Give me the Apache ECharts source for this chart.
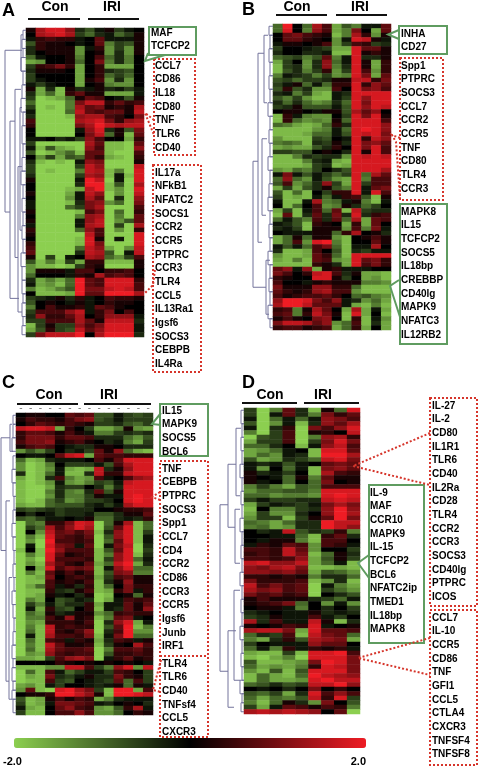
<!DOCTYPE html>
<html>
<head>
<meta charset="utf-8">
<title>Heatmaps</title>
<script src="https://cdn.jsdelivr.net/npm/echarts@6/dist/echarts.min.js"></script>
<style>
html, body { margin: 0; padding: 0; background: #fff; }
#chart { width: 480px; height: 769px; }
</style>
</head>
<body>
<div id="chart"></div>
<script>
// heat values are in steps of 0.2, so -10 is -2.0 and 10 is 2.0
const panelA = [
  [1,7,9,9,6,-2,-4,-1,1,-3,-1,0],
  [0,7,8,9,7,-3,-5,-2,-1,-5,-3,1],
  [-1,2,3,2,2,-1,0,4,-1,-1,-1,1],
  [-4,2,1,1,0,-1,0,4,-6,-3,-4,1],
  [-2,2,1,1,1,-7,-1,2,-7,-3,-7,1],
  [-2,0,1,1,1,-7,0,1,-7,-2,-7,1],
  [-5,-1,0,0,1,-6,0,3,-5,-2,-6,0],
  [-8,-7,0,0,1,-5,0,5,-6,-2,-6,0],
  [-3,2,3,5,2,-8,0,2,-8,-8,-8,0],
  [-2,1,1,1,0,-8,0,2,-2,-3,-4,0],
  [-3,0,0,0,0,-8,0,2,-5,-3,-5,0],
  [-3,-1,0,0,0,-8,1,3,-7,-2,-7,0],
  [-1,-3,-1,0,0,-8,0,1,-6,-7,-7,0],
  [1,-8,-2,-9,1,-2,-1,1,-2,-1,-3,-1],
  [-2,-8,-5,-9,2,4,1,1,-8,-8,-8,-1],
  [-3,-10,-9,-8,-5,1,4,3,0,-1,-4,1],
  [-5,-10,-10,-10,-6,5,8,8,2,4,2,3],
  [-3,-10,-9,-10,-6,7,4,5,1,2,1,7],
  [-1,-10,-10,-10,-5,8,4,3,4,4,1,8],
  [-2,-10,-10,-10,-9,6,7,7,3,2,0,5],
  [3,-10,-10,-10,-10,7,8,9,5,2,6,7],
  [2,-10,-10,-10,-10,5,7,10,8,7,8,8],
  [0,-10,-10,-10,-10,-1,6,9,-2,1,-4,5],
  [0,-10,-10,-10,-10,0,5,8,-5,1,-9,4],
  [-1,-1,0,-2,-1,-3,6,3,0,0,-8,2],
  [-3,-10,-10,-10,-10,-10,7,4,-9,-9,-10,4],
  [-1,-9,-4,-8,-9,-10,6,3,-9,-9,-10,6],
  [-4,-10,-9,-7,-5,-9,4,4,-9,-10,-10,3],
  [0,-7,-3,-8,-4,-5,4,2,-8,-9,-10,2],
  [-2,-9,-10,-9,-10,-1,6,5,-10,-10,-10,1],
  [-3,-10,-10,-10,-10,-3,8,6,-10,-10,-10,8],
  [-3,-10,-9,-10,-10,-6,8,7,-9,-6,-10,9],
  [-2,-10,-10,-10,-10,-3,7,6,-9,-1,-9,9],
  [1,-10,-10,-10,-10,-1,10,8,-10,-1,-10,9],
  [0,-10,-10,-10,-10,-2,10,10,-9,-4,-10,7],
  [0,-10,-10,-10,-9,-8,8,10,-9,-7,-10,9],
  [1,-10,-10,-10,-8,-1,8,6,-10,-7,-10,8],
  [0,-10,-10,-10,-7,-1,7,4,-10,-2,-10,6],
  [-1,-10,-10,-10,-9,-2,5,6,-7,-5,-10,5],
  [-1,-10,-10,-10,-5,-3,5,7,-10,-10,-10,3],
  [1,-10,-10,-10,-10,-9,3,5,-10,-5,-10,2],
  [0,-10,-10,-10,-10,-6,6,7,-10,-6,-10,4],
  [1,-10,-10,-10,-10,-1,6,8,-10,-7,-4,4],
  [-1,-10,-10,-10,-10,-1,7,8,-10,-3,-10,7],
  [2,-10,-10,-10,-10,-5,6,3,-10,-7,-10,2],
  [1,-10,-10,-10,-10,-10,8,3,-10,-10,-10,9],
  [0,-10,-10,-10,-10,-9,9,1,-10,-1,-10,9],
  [2,-10,-10,-10,-10,-9,9,5,-10,-10,-10,9],
  [3,-10,-10,-10,-10,-5,8,6,-8,-10,-7,8],
  [4,-10,-10,-10,-10,-2,8,7,-4,-10,-1,8],
  [1,-10,-3,-10,-1,0,7,6,-5,-7,-3,3],
  [-4,-9,-6,-9,-3,-8,2,2,-9,-9,-9,1],
  [-7,-9,-9,-10,-9,-3,2,1,-10,-10,-10,1],
  [-7,1,1,1,-1,3,3,0,2,2,3,0],
  [-5,0,0,0,-1,2,1,7,3,4,3,0],
  [-2,-8,-6,-8,-5,10,4,3,9,9,9,2],
  [-1,-8,-7,-9,-5,10,4,3,9,9,9,3],
  [-6,-9,-8,-6,-4,10,5,5,8,9,8,3],
  [0,-9,-9,-9,-8,10,4,4,10,10,10,7],
  [-3,-2,-1,1,-2,2,-1,0,3,2,2,1],
  [-4,0,1,0,-1,1,-1,0,2,1,1,0],
  [-6,0,3,1,1,2,-1,4,3,1,0,0],
  [-3,3,3,3,6,8,-1,2,5,0,3,0],
  [-2,6,2,2,4,7,0,2,6,6,6,-1],
  [-3,-3,3,3,3,7,4,1,8,8,8,-2],
  [-9,-3,1,-3,-3,6,3,5,9,9,9,-1],
  [-8,-4,2,-3,-4,8,4,6,9,9,9,-1],
  [-3,5,8,8,8,10,0,7,10,10,10,-2]
]
const panelB = [
  [-5,10,0,-5,7,3,-8,-4,-6,-1,-1,4],
  [-5,9,0,-6,6,3,-8,-6,5,0,-8,4],
  [0,4,5,3,2,1,-9,-6,7,2,-7,1],
  [0,4,4,2,1,0,-7,-1,9,8,1,-1],
  [-1,1,1,0,1,3,-7,-3,3,2,-3,-2],
  [-3,0,0,-1,-2,-3,-8,-8,9,4,4,1],
  [-2,0,0,-2,-2,-1,-9,-9,9,1,2,1],
  [-5,-4,-3,-6,-4,4,-6,-1,9,-2,-2,1],
  [-8,-3,0,-7,-2,6,-5,-1,9,1,-8,2],
  [-9,-3,-2,-7,-2,6,-6,-2,9,1,-8,2],
  [-9,-4,-2,-6,-3,2,-7,-3,9,3,-7,2],
  [-6,-1,-2,-3,-6,-3,-7,-6,9,5,-8,4],
  [-4,-3,-5,-3,-3,-2,1,1,8,8,2,5],
  [-3,-1,1,-5,-1,-5,2,2,9,2,6,4],
  [-4,2,-4,-2,-7,-7,3,0,9,5,6,3],
  [-2,-1,-6,-3,-8,-9,-1,-2,9,9,9,9],
  [-4,-6,-3,-7,-9,-9,-1,-3,9,6,9,9],
  [-2,-5,-2,-5,-7,-6,-2,-5,9,5,9,9],
  [-3,-2,1,-4,-4,-4,-1,-4,9,6,9,8],
  [0,1,1,0,-1,1,1,-4,7,4,6,0],
  [-9,2,-1,-6,-7,-7,0,-3,9,5,9,1],
  [-9,2,-5,-7,-6,-7,1,-5,9,9,9,3],
  [-5,-6,-8,-9,-8,-5,2,-2,9,9,9,6],
  [-9,-9,-9,-9,-7,-6,-1,-5,9,10,9,6],
  [-9,-9,-9,-8,-5,-5,-1,-4,9,8,9,5],
  [-7,-9,-9,-9,-3,-4,0,-1,9,2,8,6],
  [-6,-5,-6,-9,-2,-3,1,-2,9,5,6,4],
  [-8,-7,-8,-8,-4,-2,2,0,9,5,9,3],
  [-3,-3,-4,-4,0,1,0,-2,9,1,9,3],
  [-9,-9,-6,-2,-3,-2,-2,-7,9,8,9,8],
  [-9,-9,-9,-6,-2,-1,-8,-9,9,9,9,9],
  [-9,-9,-9,-8,-3,-2,-9,-8,9,9,9,9],
  [-7,-8,-5,-6,-3,0,-2,-4,9,9,9,7],
  [-1,5,-1,-4,-1,-3,-5,-3,9,-5,7,4],
  [-5,6,-5,-7,-1,-4,-7,-8,9,-6,3,3],
  [-4,3,-7,-5,-2,6,-3,-8,9,-3,3,3],
  [-8,-3,-8,-4,-2,1,-4,-6,9,-1,4,5],
  [-4,-9,-5,-9,0,-3,2,2,9,-1,9,3],
  [-3,-9,-8,-9,-1,-5,-1,2,3,-4,-9,1],
  [-1,-9,-9,-1,7,-6,-5,-1,1,-6,-9,-1],
  [0,-9,-5,0,3,-7,-6,1,-2,-5,-3,0],
  [-8,-3,-9,-1,3,-5,4,-9,8,-3,-2,-2],
  [-9,4,-9,-2,4,-2,5,-2,9,-2,2,3],
  [-5,-1,-4,-6,3,-2,4,-5,7,-8,4,3],
  [-1,-2,-4,-9,2,1,0,-8,2,-8,4,0],
  [-2,-1,-3,-9,1,1,1,-7,3,-6,5,-1],
  [0,-1,-1,-1,1,1,-5,2,7,0,1,-2],
  [-8,-5,1,-5,1,1,-7,-9,0,1,3,1],
  [-8,-5,3,-7,9,10,-6,-9,0,0,4,1],
  [-1,-4,-1,-5,3,5,-5,-9,-1,-1,7,0],
  [-2,-9,-9,-8,3,0,-4,-9,-2,-3,-1,-1],
  [-7,-9,-9,-8,4,2,-5,-9,9,9,9,9],
  [-8,-9,-6,-9,4,3,-7,-8,9,4,5,2],
  [-9,-9,-9,-9,2,1,-2,-8,9,3,5,2],
  [4,6,-1,6,-8,1,2,-1,-1,-1,0,0],
  [5,3,0,2,8,9,3,-2,1,-8,-8,-9],
  [2,1,0,0,9,9,1,-3,0,-8,-7,-9],
  [3,0,0,-1,1,2,1,1,1,-6,-6,-7],
  [5,1,1,1,6,6,2,2,-5,-9,-9,-9],
  [4,2,1,2,6,7,3,3,-7,-9,-9,-9],
  [3,1,2,3,3,4,2,0,-5,-4,-6,-7],
  [6,10,10,9,5,3,6,-1,-2,-7,-5,-8],
  [7,10,10,8,4,4,4,-1,-8,-9,-6,-9],
  [2,3,-6,1,7,4,0,-8,7,-8,-1,-8],
  [3,4,-6,2,8,5,1,-9,9,-8,0,-9],
  [1,3,1,0,5,6,0,-9,2,-9,-1,-7],
  [5,8,8,7,4,6,-7,-5,3,-9,-2,-8],
  [2,3,3,1,2,3,-8,-5,2,-8,0,-8]
]
const panelC = [
  [0,1,1,0,0,4,3,4,-4,-4,-1,-3,-4,-3],
  [1,3,2,2,1,3,5,6,-4,-3,-1,-3,-3,-3],
  [0,2,4,3,2,3,2,1,-3,-3,-2,-4,-5,-3],
  [8,9,9,8,-8,2,0,-3,-8,-8,-6,1,-7,-8],
  [2,4,4,3,1,3,1,-1,-6,-6,-3,-2,-3,-2],
  [2,5,5,5,2,4,4,3,-2,-2,-2,-5,-7,-4],
  [3,5,5,6,1,2,3,1,0,-2,-1,-6,-8,-3],
  [1,3,4,3,0,-1,-2,-2,1,1,0,-2,-2,-2],
  [-7,-4,-6,-3,0,-2,-1,-3,4,1,6,-5,-8,-9],
  [0,-1,-1,0,4,8,9,-8,4,3,3,2,2,2],
  [-5,-9,-8,-2,-1,-1,-1,0,3,1,4,9,9,9],
  [-7,-10,-9,-6,0,-3,-3,-3,-1,-4,3,7,9,9],
  [-7,-10,-9,-7,-1,-8,-9,-8,8,-2,1,6,9,9],
  [-2,-10,-9,-5,-1,-9,-9,-2,8,2,2,8,9,9],
  [-8,-10,-9,-2,3,-6,-8,-7,3,-1,0,3,6,7],
  [-9,-10,-9,-7,-1,-7,-8,-6,-3,-4,-1,8,9,9],
  [-9,-10,-10,-8,-2,-3,-3,0,-2,-6,-2,9,9,9],
  [-9,-10,-10,-6,-2,-6,-7,-2,4,-4,1,9,9,9],
  [-9,-10,-10,-7,-2,-6,-6,-3,1,-1,-1,9,10,9],
  [-9,-10,-9,-5,-3,-7,-6,-3,-3,-2,0,9,10,9],
  [-8,-9,-9,-5,-4,-4,-4,-2,-1,-3,-1,7,9,9],
  [-3,-4,-3,-2,-3,-2,-2,-2,0,0,1,2,2,3],
  [0,-2,0,-1,-3,-2,-2,-1,-4,-4,-2,1,1,4],
  [-4,-5,-3,-1,-1,0,-1,1,-5,-5,-2,-1,-2,2],
  [-10,-5,-6,2,2,5,9,8,-10,-5,1,7,-9,-5],
  [-10,-3,-5,7,3,6,9,7,-10,-4,4,9,-9,-5],
  [-10,0,-7,8,4,5,3,5,-9,-2,6,9,-9,-3],
  [-10,-6,-9,9,4,3,2,4,-10,-4,6,9,-9,-1],
  [-10,-7,-10,10,3,3,2,3,-10,-5,4,9,-9,-1],
  [-10,-1,-10,9,5,4,-1,4,-10,-1,5,8,-10,-2],
  [-9,0,-9,10,6,3,3,3,-9,-4,4,9,-10,-3],
  [-10,-6,-9,9,4,1,2,3,-9,-6,6,9,-9,-2],
  [-10,-8,-10,9,3,3,3,2,-9,-3,6,9,-5,-1],
  [-10,-7,-9,7,4,2,1,4,-8,-5,8,10,-8,-2],
  [-10,0,-8,9,3,5,4,5,-9,-1,6,9,-5,-5],
  [-10,-6,-9,4,1,3,1,3,-9,-4,5,6,-6,-6],
  [-10,-9,-8,5,0,2,3,2,-8,-3,3,4,1,1],
  [-10,-9,-9,3,1,2,1,3,-9,-2,1,6,1,1],
  [-10,-8,-5,3,-1,1,-2,2,-9,-5,0,5,2,2],
  [-10,-9,-9,2,-2,-3,1,3,-9,-8,2,5,-1,2],
  [-10,-9,-8,1,-1,0,-2,1,-10,-9,0,1,-5,1],
  [-10,-6,-8,0,-4,-3,-1,-2,-10,-8,-1,3,2,3],
  [-10,-3,-6,-1,-4,-2,-2,2,-8,-1,-1,4,1,4],
  [-10,-1,-8,2,-3,-4,0,2,-9,-1,-2,4,1,6],
  [-10,-5,-7,1,-2,-1,1,1,-7,-5,2,3,2,2],
  [-10,-6,-6,3,1,6,1,2,-9,-6,4,5,-1,0],
  [-10,-7,-8,2,2,2,1,3,-10,-2,6,9,-8,-1],
  [-10,-6,-9,8,2,3,2,2,-10,-4,4,10,-9,-6],
  [-10,-5,-9,8,2,1,3,6,-10,-2,3,10,-7,-7],
  [-10,-1,-9,7,3,3,2,5,-9,-1,5,10,-5,-5],
  [-10,-5,-9,3,2,-1,2,1,-8,-2,3,2,-1,1],
  [-10,-6,-9,8,4,1,1,2,-9,-3,1,0,7,3],
  [-10,-5,-9,7,4,3,3,4,-10,-6,3,3,4,2],
  [-10,-7,-8,6,3,2,3,3,-10,-4,2,2,3,2],
  [-8,-8,-9,-3,3,6,7,5,-10,-1,2,4,1,2],
  [0,0,0,0,2,1,0,1,0,1,0,1,0,-1],
  [-9,-9,-9,-7,-7,8,8,3,-3,-6,6,9,-7,8],
  [-10,-5,-9,3,-1,-5,-3,-1,-1,-3,3,2,0,-3],
  [-10,-8,-9,5,-2,-3,-1,1,-2,-2,5,2,1,-3],
  [-10,-9,-9,3,-3,-4,0,-1,-2,-3,4,-5,3,-3],
  [-8,-7,-9,-1,-3,0,0,-1,-2,-1,1,-5,1,-1],
  [-7,4,-9,-10,9,10,7,5,-3,-9,10,10,-8,3],
  [0,1,1,2,10,10,8,6,1,-9,10,10,9,8],
  [-4,-9,-8,1,3,1,3,2,-8,-6,-2,-1,-1,-1],
  [-3,-9,-8,-1,5,5,4,3,-1,-2,0,1,0,-2],
  [-1,-8,-9,0,4,6,3,2,-7,-8,-4,2,7,-1],
  [-3,-9,-9,0,3,3,6,3,-7,-7,-5,0,2,1]
]
const panelD = [
  [-3,-10,-6,4,-2,-9,1,-5,9],
  [-3,-10,-1,4,-2,-6,5,2,4],
  [-1,-10,-5,-1,-5,-1,6,5,3],
  [-4,-10,-7,-1,-9,-2,6,4,7],
  [-1,-10,-2,2,-10,5,3,6,9],
  [-6,-10,-3,3,-10,1,2,0,8],
  [-10,-4,-3,3,-10,-6,6,7,2],
  [-8,-3,-3,3,-10,-3,5,9,5],
  [-5,-5,-2,0,-9,-1,6,8,3],
  [-8,-7,-5,-1,0,-9,9,9,4],
  [-8,-5,-7,-1,-2,-9,10,10,7],
  [-4,-8,-7,-2,-3,-5,8,9,5],
  [-1,-2,-1,-4,-1,0,4,5,4],
  [-1,-7,0,-5,-1,-9,5,6,4],
  [1,-2,-1,-3,0,-9,7,3,2],
  [1,0,-1,-5,1,-6,4,1,1],
  [1,-1,0,-5,0,-5,5,0,1],
  [-6,-3,-6,-8,-4,-5,3,3,3],
  [-7,-5,-5,-4,-4,-6,9,9,9],
  [-5,-5,-7,-6,-6,-7,9,10,9],
  [-3,-1,-3,-3,-2,-2,8,9,8],
  [-8,-3,-1,-2,-3,-1,5,7,5],
  [-9,0,-6,-6,-3,-2,6,10,6],
  [-8,-3,-7,-7,-2,0,6,10,7],
  [-7,-3,-3,-9,-3,1,4,10,5],
  [-5,-6,-8,-5,-2,-2,10,8,8],
  [-6,-5,-8,-7,-2,-2,10,8,6],
  [0,-2,-1,8,-4,-2,-3,2,-6],
  [0,0,-1,-1,-5,-9,2,4,-2],
  [0,-1,1,1,-6,-9,3,3,0],
  [-1,2,1,4,3,-7,3,2,-1],
  [3,3,2,8,4,-7,0,0,-3],
  [2,3,2,8,5,-9,-5,1,-2],
  [3,3,2,3,6,-8,-4,1,-3],
  [8,9,6,6,8,-8,-5,-1,-9],
  [6,5,7,8,5,-9,-9,-8,-9],
  [6,6,5,6,4,-8,-4,-5,-7],
  [2,2,1,2,1,-6,-2,-2,-5],
  [5,2,2,2,3,-9,-7,-2,-9],
  [8,3,5,3,4,-10,-1,-6,-8],
  [7,5,6,3,4,-10,-3,-5,-7],
  [5,3,4,2,3,-10,0,-2,-4],
  [1,3,1,1,1,-2,-3,-5,-1],
  [1,2,3,5,-5,0,-7,-1,-7],
  [0,1,1,-1,-6,0,-2,0,-3],
  [-2,-1,0,-1,-1,1,-2,-1,-2],
  [-3,-2,1,-1,-1,3,-1,-3,0],
  [7,-2,3,-1,-1,8,1,-9,-2],
  [1,0,1,3,2,9,-1,0,1],
  [7,8,8,5,-8,9,4,4,3],
  [-5,-2,-3,3,-9,8,5,4,-5],
  [-6,-8,-2,2,-4,7,6,5,-8],
  [-3,0,-1,-1,-1,6,4,4,0],
  [-5,-1,-6,2,-1,2,1,2,-1],
  [-8,-9,-9,-3,-9,9,9,10,3],
  [-9,-10,-8,-6,-10,9,9,9,5],
  [-4,-9,-9,-8,-7,5,10,9,5],
  [-5,-8,-7,-8,-6,2,9,8,5],
  [-7,-9,-4,-9,-4,9,9,9,5],
  [-9,-5,-8,-9,-5,10,8,7,6],
  [-9,-5,-8,-8,-7,9,10,8,8],
  [-5,-4,-2,-4,-3,8,8,10,6],
  [0,-1,0,-2,0,5,0,2,0],
  [-4,-5,-3,-8,-2,9,3,6,3],
  [-5,-8,-5,-6,-4,8,2,9,-3],
  [-6,-9,-5,1,-2,-7,5,0,-4],
  [-3,-8,-1,4,3,1,3,2,-6],
  [7,8,7,8,7,6,0,4,-10]
]

// dendrogram brackets: [x of the spine, top row, bottom row, x end of top arm, x end of bottom arm]
const treeA = [
  [5,4.4,40,22,10],[10,20,59,15,19],[15,13,50,21,18],[18,30,62,22,22],[20,17,44,22,22],
  [21,1,9,23,23],[23,0,2,26,26],[22,2,4,26,26],[23,4,6,26,26],[21,6,9,26,26],[23,9,12,26,26],[22,12,15,26,26],
  [21,15,18,26,26],[23,18,21,26,26],[22,21,25,26,26],[23,25,28,26,26],[22,28,31,26,26],[21,31,34,26,26],
  [23,34,37,26,26],[22,37,40,26,26],[23,40,43,26,26],[22,43,46,26,26],[23,46,49,26,26],[21,49,52,26,26],
  [22,52,55,26,26],[22,55,58,26,26],[23,58,60,26,26],[22,60,63,26,26],[23,63,65,26,26],[22,65,67,26,26]
]
const treeB = [
  [13,30,58,18,26],[18,6,48,24,22],[24,2,17,28,27],[22,25,42,27,26],[26,52,64,30,29],
  [29,0,2,33,33],[30,2,5,33,33],[29,5,8,33,33],[30,8,11,33,33],[29,11,14,33,33],[30,14,17,33,33],
  [28,17,20,33,33],[30,20,23,33,33],[29,23,26,33,33],[30,26,29,33,33],[28,29,32,33,33],[30,32,35,33,33],
  [29,35,38,33,33],[28,38,41,33,33],[30,41,44,33,33],[29,44,47,33,33],[30,47,50,33,33],[28,50,53,33,33],
  [30,53,56,33,33],[29,56,59,33,33],[30,59,62,33,33],[28,62,65,33,33],[30,65,67,33,33]
]
const treeC = [
  [1,5,30,10,6],[6,19,59,10,9],[10,2,8,12,13],[9,36,63,12,12],
  [13,0,2,16,16],[13,2,5,16,16],[12,5,8,16,16],[13,9,12,16,16],[12,12,15,16,16],[13,15,18,16,16],
  [14,18,21,16,16],[13,21,24,16,16],[12,24,27,16,16],[13,27,30,16,16],[14,30,33,16,16],[13,33,36,16,16],
  [14,36,39,16,16],[12,39,42,16,16],[13,42,45,16,16],[14,45,48,16,16],[13,48,51,16,16],[12,51,54,16,16],
  [13,54,56,16,16],[12,56,59,16,16],[13,59,61,16,16],[12,61,63,16,16],[13,63,66,16,16]
]
const treeD = [
  [0,21,58,8,8],[8,12,26,16,15],[8,49,66,16,14],[16,4,19,21,20],[15,22,34,20,20],[14,40,60,20,20],
  [21,0,3,24,24],[22,3,6,24,24],[21,6,9,24,24],[22,9,12,24,24],[20,12,15,24,24],[22,15,18,24,24],
  [21,18,21,24,24],[22,21,24,24,24],[20,24,27,24,24],[22,27,30,24,24],[21,30,33,24,24],[22,33,36,24,24],
  [20,36,39,24,24],[22,39,42,24,24],[21,42,45,24,24],[22,45,48,24,24],[20,48,51,24,24],[22,51,54,24,24],
  [21,54,57,24,24],[22,57,60,24,24],[20,60,63,24,24],[22,63,65,24,24],[21,65,67,24,24]
]

// gene lists next to the heatmaps
const genesA1 = ['MAF', 'TCFCP2']
const genesA2 = ['CCL7', 'CD86', 'IL18', 'CD80', 'TNF', 'TLR6', 'CD40']
const genesA3 = ['IL17a', 'NFkB1', 'NFATC2', 'SOCS1', 'CCR2', 'CCR5', 'PTPRC', 'CCR3', 'TLR4', 'CCL5', 'IL13Ra1', 'Igsf6', 'SOCS3', 'CEBPB', 'IL4Ra']
const genesB1 = ['INHA', 'CD27']
const genesB2 = ['Spp1', 'PTPRC', 'SOCS3', 'CCL7', 'CCR2', 'CCR5', 'TNF', 'CD80', 'TLR4', 'CCR3']
const genesB3 = ['MAPK8', 'IL15', 'TCFCP2', 'SOCS5', 'IL18bp', 'CREBBP', 'CD40lg', 'MAPK9', 'NFATC3', 'IL12RB2']
const genesC1 = ['IL15', 'MAPK9', 'SOCS5', 'BCL6']
const genesC2 = ['TNF', 'CEBPB', 'PTPRC', 'SOCS3', 'Spp1', 'CCL7', 'CD4', 'CCR2', 'CD86', 'CCR3', 'CCR5', 'Igsf6', 'Junb', 'IRF1']
const genesC3 = ['TLR4', 'TLR6', 'CD40', 'TNFsf4', 'CCL5', 'CXCR3']
const genesD1 = ['IL-27', 'IL-2', 'CD80', 'IL1R1', 'TLR6', 'CD40', 'IL2Ra', 'CD28', 'TLR4', 'CCR2', 'CCR3', 'SOCS3', 'CD40lg', 'PTPRC', 'ICOS']
const genesD2 = ['CCL7', 'IL-10', 'CCR5', 'CD86', 'TNF', 'GFI1', 'CCL5', 'CTLA4', 'CXCR3', 'TNFSF4', 'TNFSF8']
const genesD3 = ['IL-9', 'MAF', 'CCR10', 'MAPK9', 'IL-15', 'TCFCP2', 'BCL6', 'NFATC2ip', 'TMED1', 'IL18bp', 'MAPK8']

const heatColors = ['#8ccf50', '#000000', '#ee1c24']
const red = '#d6352b'
const green = '#5f9c60'
const font = '"Liberation Sans", Arial, sans-serif'

const panels = [
  { rows: panelA, tree: treeA, left: 26, top: 28, width: 118, height: 309, treeLeft: 0 },
  { rows: panelB, tree: treeB, left: 273, top: 24, width: 118, height: 306, treeLeft: 240 },
  { rows: panelC, tree: treeC, left: 16, top: 413, width: 137, height: 302, treeLeft: 0 },
  { rows: panelD, tree: treeD, left: 244, top: 408, width: 116, height: 306, treeLeft: 220 }
]

const grid = []
const xAxis = []
const yAxis = []
const series = []

panels.forEach(function (p, i) {
  const cols = p.rows[0].map(function () { return '-' })
  const cells = []
  p.rows.forEach(function (row, r) {
    row.forEach(function (v, c) { cells.push([c, r, v]) })
  })
  // heatmap grid
  grid.push({ left: p.left, top: p.top, width: p.width, height: p.height })
  xAxis.push({
    type: 'category', gridIndex: grid.length - 1, data: cols, position: 'top',
    axisLine: { show: false }, axisTick: { show: false }, splitLine: { show: false },
    // only panel C has the row of dashes over its columns
    axisLabel: { show: i === 2, interval: 0, color: '#777', fontSize: 10, margin: 0, fontFamily: font }
  })
  yAxis.push({
    type: 'category', gridIndex: grid.length - 1, inverse: true,
    data: p.rows.map(function (_, r) { return r }), show: false
  })
  series.push({
    type: 'heatmap', xAxisIndex: grid.length - 1, yAxisIndex: grid.length - 1,
    data: cells, silent: true, progressive: 0, itemStyle: { borderWidth: 0 }
  })
  // dendrogram grid, axis units are pixels across and rows down
  const treeWidth = p.left - p.treeLeft
  grid.push({ left: p.treeLeft, top: p.top, width: treeWidth, height: p.height })
  xAxis.push({ type: 'value', gridIndex: grid.length - 1, min: 0, max: treeWidth, show: false })
  yAxis.push({ type: 'value', gridIndex: grid.length - 1, min: 0, max: p.rows.length, inverse: true, show: false })
  series.push({
    type: 'custom', xAxisIndex: grid.length - 1, yAxisIndex: grid.length - 1, silent: true,
    data: p.tree,
    encode: { x: [0, 3, 4], y: [1, 2] },
    renderItem: function (params, api) {
      const a = api.coord([api.value(0), api.value(1) + 0.5])
      const b = api.coord([api.value(0), api.value(2) + 0.5])
      const ax = api.coord([api.value(3), api.value(1) + 0.5])
      const bx = api.coord([api.value(4), api.value(2) + 0.5])
      return {
        type: 'polyline',
        shape: { points: [ax, a, b, bx] },
        style: { stroke: '#74749c', fill: null, lineWidth: 1 }
      }
    }
  })
})

// texts, boxes and pointers
const graphics = []
function text(str, x, y, size, align) {
  graphics.push({
    type: 'text', x: x, y: y, z: 100,
    style: { text: str, fill: '#000', font: 'bold ' + size + 'px ' + font, textAlign: align || 'left', textVerticalAlign: 'middle' }
  })
}
function genes(list, x, y0) {
  list.forEach(function (g, i) { text(g, x, y0 + i * 13.67, 10) })
}
function box(x, y, w, h, color, dotted) {
  graphics.push({
    type: 'rect', z: 90, shape: { x: x, y: y, width: w, height: h },
    style: { fill: dotted ? null : '#fff', stroke: color, lineWidth: 2, lineDash: dotted ? [2, 2] : null }
  })
}
function pointer(points, color, dotted) {
  graphics.push({
    type: 'polyline', z: 91, shape: { points: points },
    style: { fill: null, stroke: color, lineWidth: 2, lineDash: dotted ? [2, 2] : null }
  })
}
function rule(x1, x2, y) {
  graphics.push({ type: 'rect', z: 90, shape: { x: x1, y: y - 1, width: x2 - x1, height: 2 }, style: { fill: '#111' } })
}

text('A', 2, 11, 18)
text('B', 242, 10, 18)
text('C', 2, 383, 18)
text('D', 242, 383, 18)

text('Con', 55, 7, 14, 'center')
text('IRI', 112, 7, 14, 'center')
rule(28, 80, 19)
rule(88, 139, 19)
text('Con', 297, 7, 14, 'center')
text('IRI', 360, 7, 14, 'center')
rule(276, 327, 15)
rule(336, 387, 15)
text('Con', 49, 395, 14, 'center')
text('IRI', 109, 395, 14, 'center')
rule(17, 78, 404)
rule(84, 151, 404)
text('Con', 270, 395, 14, 'center')
text('IRI', 323, 395, 14, 'center')
rule(242, 297, 403)
rule(304, 359, 403)

// panel A
box(149, 27, 47, 28, green)
pointer([[148, 53], [145, 61], [165, 55]], green)
genes(genesA1, 151, 33)
box(154, 59, 41, 96, red, true)
pointer([[154, 120], [145, 113], [154, 135]], red, true)
genes(genesA2, 155, 66)
box(153, 165, 48, 207, red, true)
pointer([[155, 270], [153, 285], [145, 293]], red, true)
genes(genesA3, 155, 173)

// panel B
box(399, 26, 48, 28, green)
pointer([[399, 30], [388, 34.5], [399, 39]], green)
genes(genesB1, 401, 34)
box(400, 58, 43, 142, red, true)
pointer([[400, 138], [392, 135], [396, 142], [400, 198]], red, true)
genes(genesB2, 401, 66)
box(400, 204, 47, 140, green)
pointer([[399, 280], [390, 286], [400, 317]], green)
genes(genesB3, 401, 212)

// panel C
box(160, 404, 48, 52, green)
pointer([[161, 413], [152, 424], [161, 425]], green)
genes(genesC1, 162, 411)
box(160, 461, 48, 276, red, true)
graphics.push({ type: 'line', z: 91, shape: { x1: 160, y1: 656, x2: 208, y2: 656 }, style: { stroke: red, lineWidth: 2, lineDash: [2, 2] } })
pointer([[160, 492], [152, 497], [160, 500]], red, true)
pointer([[161, 660], [153, 690], [161, 692]], red, true)
genes(genesC2, 162, 469)
genes(genesC3, 162, 664)

// panel D
box(430, 398, 47, 208, red, true)
pointer([[430, 433], [353, 466], [430, 485]], red, true)
genes(genesD1, 432, 406)
box(430, 610, 47, 155, red, true)
pointer([[430, 638], [358, 658], [430, 675]], red, true)
genes(genesD2, 432, 618)
box(369, 485, 55, 158, green)
pointer([[369, 555], [358, 563], [369, 578]], green)
genes(genesD3, 370, 493)

text('-2.0', 3, 762, 11)
text('2.0', 366, 762, 11, 'right')

const chart = echarts.init(document.getElementById('chart'), null, { renderer: 'canvas' })
chart.setOption({
  animation: false,
  backgroundColor: '#fff',
  grid: grid,
  xAxis: xAxis,
  yAxis: yAxis,
  visualMap: {
    type: 'continuous', min: -10, max: 10, orient: 'horizontal', calculable: false, hoverLink: false,
    seriesIndex: [0, 2, 4, 6], dimension: 2,
    left: 14, top: 738, padding: 0, itemWidth: 10, itemHeight: 352,
    inRange: { color: heatColors }
  },
  series: series,
  graphic: graphics
})
</script>
</body>
</html>
